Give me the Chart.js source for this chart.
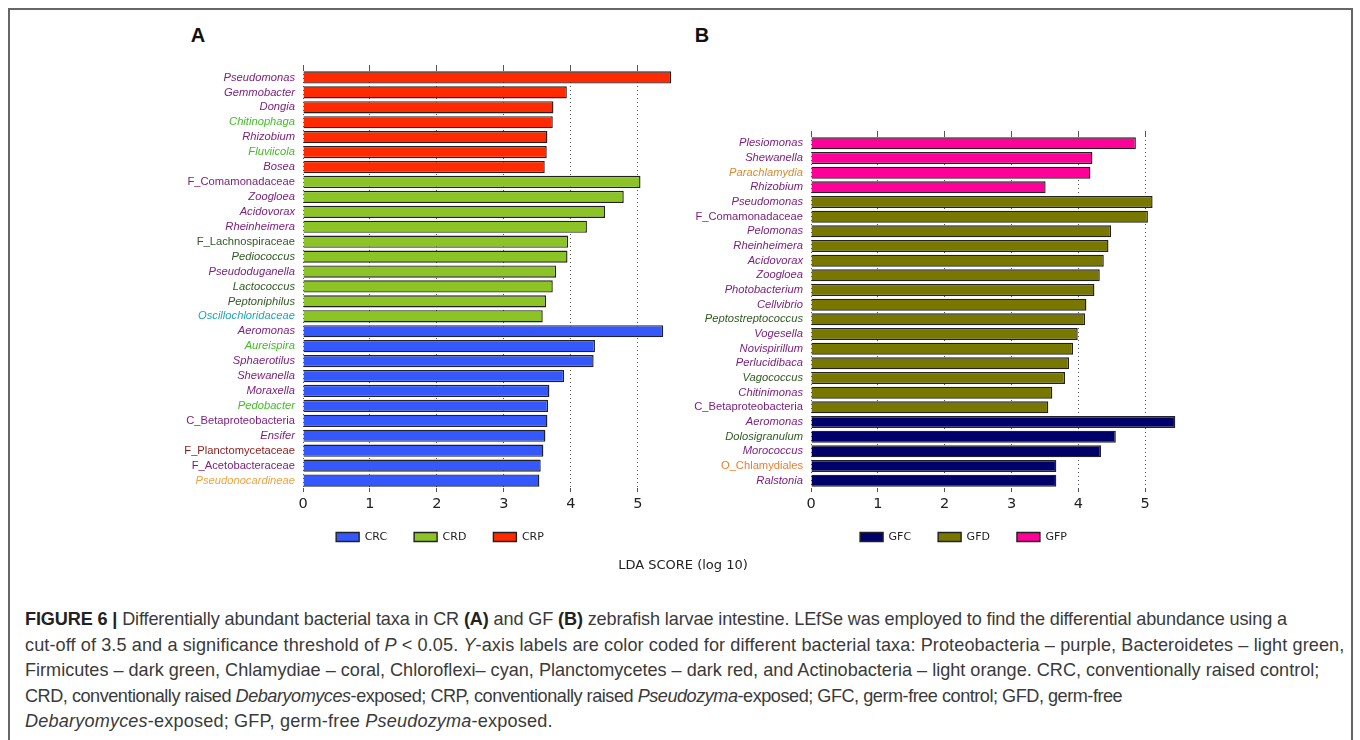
<!DOCTYPE html>
<html>
<head>
<meta charset="utf-8">
<script src="https://cdn.jsdelivr.net/npm/chart.js@4.4.1/dist/chart.umd.min.js"></script>
<style>
  body { margin: 0; background: #fff; width: 1360px; height: 740px; overflow: hidden; position: relative; }
  .frame { position: absolute; left: 8px; top: 8px; width: 1345px; height: 760px; border: 2px solid #666; border-bottom: none; box-sizing: border-box; }
  canvas { position: absolute; }
  #chartA { left: 0; top: 0; }
  #chartB { left: 680px; top: 0; }
  .panel { position: absolute; font: bold 20px "Liberation Sans", Arial, sans-serif; color: #111; transform: translate(-50%, -50%); }
  .xtitle { position: absolute; left: 683px; top: 564px; transform: translate(-50%, -50%); font: 13px "DejaVu Sans", sans-serif; color: #222; white-space: nowrap; }
  .caption { position: absolute; left: 25px; top: 607px; font: 18.1px "Liberation Sans", Arial, sans-serif; line-height: 25.5px; color: #3a3a3a; white-space: nowrap; }
  .caption div { height: 25.5px; }
  .caption b { color: #222; }
</style>
</head>
<body>
<div class="frame"></div>
<div class="panel" style="left:198px; top:35px;">A</div>
<div class="panel" style="left:702px; top:35px;">B</div>
<canvas id="chartA" width="700" height="570"></canvas>
<canvas id="chartB" width="560" height="570"></canvas>
<div class="xtitle">LDA SCORE (log 10)</div>
<div class="caption">
<div style="letter-spacing:-0.13px"><b>FIGURE 6 |</b> Differentially abundant bacterial taxa in CR <b>(A)</b> and GF <b>(B)</b> zebrafish larvae intestine. LEfSe was employed to find the differential abundance using a</div>
<div style="letter-spacing:0.1px">cut-off of 3.5 and a significance threshold of <i>P</i> &lt; 0.05. <i>Y</i>-axis labels are color coded for different bacterial taxa: Proteobacteria – purple, Bacteroidetes – light green,</div>
<div>Firmicutes – dark green, Chlamydiae – coral, Chloroflexi– cyan, Planctomycetes – dark red, and Actinobacteria – light orange. CRC, conventionally raised control;</div>
<div style="letter-spacing:-0.47px">CRD, conventionally raised <i>Debaryomyces</i>-exposed; CRP, conventionally raised <i>Pseudozyma</i>-exposed; GFC, germ-free control; GFD, germ-free</div>
<div style="letter-spacing:0.18px"><i>Debaryomyces</i>-exposed; GFP, germ-free <i>Pseudozyma</i>-exposed.</div>
</div>

<script>
// panel A - CR
var taxaA = ['Pseudomonas', 'Gemmobacter', 'Dongia', 'Chitinophaga', 'Rhizobium', 'Fluviicola', 'Bosea',
	'F_Comamonadaceae', 'Zoogloea', 'Acidovorax', 'Rheinheimera', 'F_Lachnospiraceae', 'Pediococcus',
	'Pseudoduganella', 'Lactococcus', 'Peptoniphilus', 'Oscillochloridaceae',
	'Aeromonas', 'Aureispira', 'Sphaerotilus', 'Shewanella', 'Moraxella', 'Pedobacter',
	'C_Betaproteobacteria', 'Ensifer', 'F_Planctomycetaceae', 'F_Acetobacteraceae', 'Pseudonocardineae'];
var ldaA = [5.50, 3.94, 3.74, 3.73, 3.65, 3.64, 3.61,
	5.04, 4.79, 4.51, 4.24, 3.96, 3.95,
	3.78, 3.73, 3.63, 3.58,
	5.38, 4.36, 4.34, 3.90, 3.68, 3.66,
	3.65, 3.62, 3.59, 3.55, 3.53];
var groupA = ['CRP', 'CRP', 'CRP', 'CRP', 'CRP', 'CRP', 'CRP',
	'CRD', 'CRD', 'CRD', 'CRD', 'CRD', 'CRD', 'CRD', 'CRD', 'CRD', 'CRD',
	'CRC', 'CRC', 'CRC', 'CRC', 'CRC', 'CRC', 'CRC', 'CRC', 'CRC', 'CRC', 'CRC'];
var phylumA = ['pro', 'pro', 'pro', 'bac', 'pro', 'bac', 'pro',
	'pro', 'pro', 'pro', 'pro', 'fir', 'fir', 'pro', 'fir', 'fir', 'chlf',
	'pro', 'bac', 'pro', 'pro', 'pro', 'bac', 'pro', 'pro', 'pla', 'pro', 'act'];

// panel B - GF
var taxaB = ['Plesiomonas', 'Shewanella', 'Parachlamydia', 'Rhizobium',
	'Pseudomonas', 'F_Comamonadaceae', 'Pelomonas', 'Rheinheimera', 'Acidovorax', 'Zoogloea',
	'Photobacterium', 'Cellvibrio', 'Peptostreptococcus', 'Vogesella', 'Novispirillum',
	'Perlucidibaca', 'Vagococcus', 'Chitinimonas', 'C_Betaproteobacteria',
	'Aeromonas', 'Dolosigranulum', 'Morococcus', 'O_Chlamydiales', 'Ralstonia'];
var ldaB = [4.86, 4.21, 4.18, 3.51,
	5.11, 5.04, 4.49, 4.45, 4.38, 4.32,
	4.24, 4.12, 4.10, 3.99, 3.92,
	3.86, 3.80, 3.61, 3.55,
	5.45, 4.56, 4.34, 3.67, 3.67];
var groupB = ['GFP', 'GFP', 'GFP', 'GFP',
	'GFD', 'GFD', 'GFD', 'GFD', 'GFD', 'GFD', 'GFD', 'GFD', 'GFD', 'GFD', 'GFD', 'GFD', 'GFD', 'GFD', 'GFD',
	'GFC', 'GFC', 'GFC', 'GFC', 'GFC'];
var phylumB = ['pro', 'pro', 'chla', 'pro',
	'pro', 'pro', 'pro', 'pro', 'pro', 'pro', 'pro', 'pro', 'fir', 'pro', 'pro',
	'pro', 'fir', 'pro', 'pro',
	'pro', 'fir', 'pro', 'chlo', 'pro'];

var groupsA = ['CRC', 'CRD', 'CRP'];
var groupsB = ['GFC', 'GFD', 'GFP'];
var xTicks = [0, 1, 2, 3, 4, 5];

var barColors = {
	CRC: '#3458fb', CRD: '#8bc424', CRP: '#ff2a00',
	GFC: '#00006b', GFD: '#787800', GFP: '#ff0099'
};
var labelColors = {
	pro: '#7e1f80', bac: '#3fbf1f', fir: '#2f5a22', chla: '#d98a2a',
	chlo: '#f07b2c', chlf: '#1ca4bc', pla: '#8a1a1a', act: '#f2a23c'
};

// moves the legend so it sits where the figure has it
function legendPlacer(cx, cy) {
	return {
		id: 'legendPlacer',
		afterLayout: function(chart) {
			var lg = chart.legend;
			if (!lg) return;
			var pad = lg.options.labels.padding;
			var dx = cx - (lg.left + lg.right) / 2;
			var dy = cy - (lg.top + pad + 5.5);
			lg.left += dx; lg.right += dx;
			lg.top += dy; lg.bottom += dy;
		}
	};
}

function makeDatasets(groups, grp, vals) {
	return groups.map(function(g) {
		return {
			label: g,
			data: vals.map(function(v, i) { return grp[i] === g ? v : null; }),
			backgroundColor: barColors[g],
			borderColor: '#222',
			borderWidth: 1.4,
			barPercentage: 0.82,
			categoryPercentage: 1,
			grouped: false
		};
	});
}

function makeConfig(taxa, vals, grp, phyla, groups, o) {
	return {
		type: 'bar',
		data: { labels: taxa, datasets: makeDatasets(groups, grp, vals) },
		plugins: [legendPlacer(o.lx, 537)],
		options: {
			indexAxis: 'y',
			responsive: false,
			animation: false,
			layout: { padding: { top: o.top, left: 0, right: o.right, bottom: 8 } },
			plugins: {
				legend: {
					position: 'bottom',
					labels: {
						boxWidth: 23, boxHeight: 9, padding: 27, color: '#222',
						font: { family: 'DejaVu Sans', size: 11 }
					}
				},
				tooltip: { enabled: false }
			},
			scales: {
				x: {
					type: 'linear', position: 'bottom', min: 0, max: o.max, z: 1,
					afterBuildTicks: function(s) { s.ticks = xTicks.map(function(v) { return { value: v }; }); },
					afterFit: function(s) { s.height = 26; },
					ticks: { color: '#222', padding: 4, font: { family: 'DejaVu Sans', size: 14.5 } },
					grid: { color: '#555', lineWidth: 1, tickLength: 4, tickColor: '#555', tickBorderDash: [] },
					border: { display: false, dash: [1, 3] }
				},
				x2: {
					type: 'linear', position: 'top', min: 0, max: o.max,
					afterBuildTicks: function(s) { s.ticks = xTicks.map(function(v) { return { value: v }; }); },
					afterFit: function(s) { s.height = 5; },
					ticks: { display: false },
					grid: { drawOnChartArea: false, tickLength: 5, tickColor: '#555' },
					border: { display: false }
				},
				y: {
					type: 'category',
					afterFit: function(s) { s.width = o.yw; },
					ticks: {
						autoSkip: false, padding: 8,
						color: function(c) { return labelColors[phyla[c.index]]; },
						font: function(c) {
							var t = taxa[c.index] || '';
							return { family: 'Liberation Sans', size: 11.2, style: /^[FCO]_/.test(t) ? 'normal' : 'italic' };
						}
					},
					grid: { display: false, drawTicks: false },
					border: { display: false }
				}
			}
		}
	};
}

// chart area A: x 303..678, top 70 ; chart area B: x 811..1182, top 136
var chartA = new Chart(document.getElementById('chartA'),
	makeConfig(taxaA, ldaA, groupA, phylumA, groupsA, { top: 65, right: 22, yw: 303, max: 5.6, lx: 440 }));
var chartB = new Chart(document.getElementById('chartB'),
	makeConfig(taxaB, ldaB, groupB, phylumB, groupsB, { top: 131, right: 58, yw: 131, max: 5.55, lx: 283.5 }));
</script>
</body>
</html>
